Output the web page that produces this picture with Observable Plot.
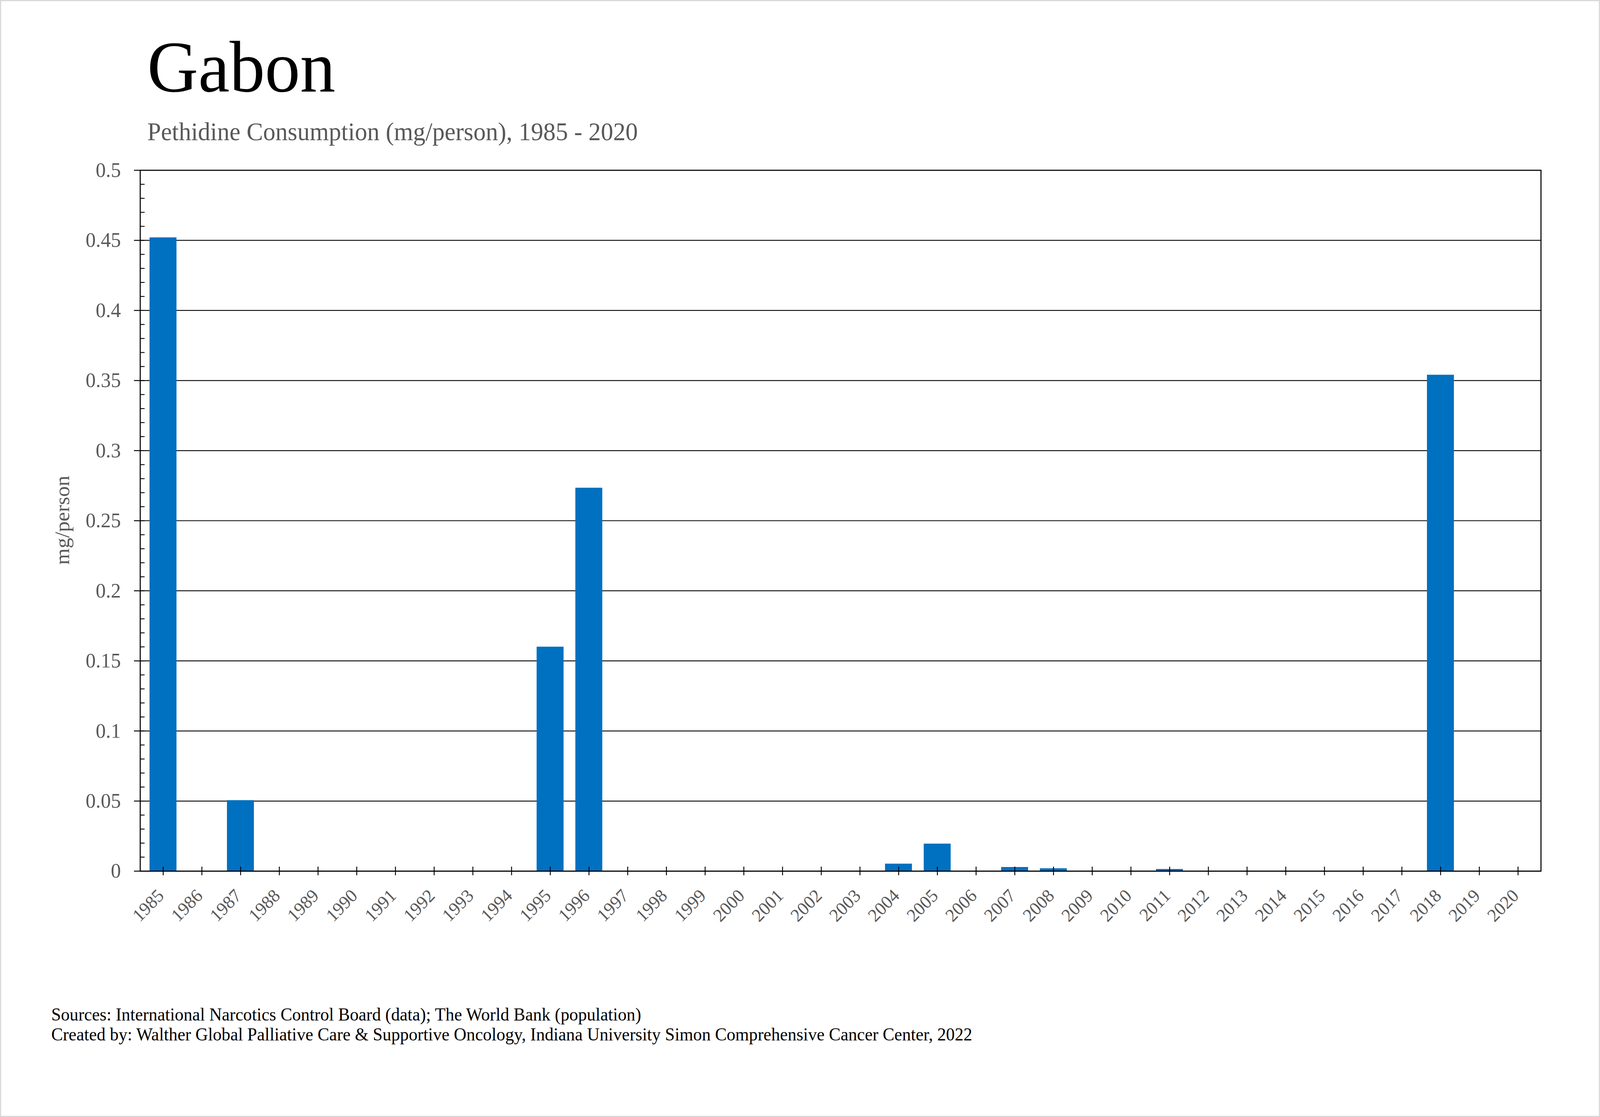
<!DOCTYPE html>
<html>
<head>
<meta charset="utf-8">
<script src="https://cdn.jsdelivr.net/npm/d3@7"></script>
<script src="https://cdn.jsdelivr.net/npm/@observablehq/plot@0.6"></script>
<style>
  html, body { margin: 0; padding: 0; background: #fff; overflow: hidden; }
  #page { position: relative; width: 4216px; height: 2860px; background: #fff; overflow: hidden;
          font-family: "Liberation Serif", "Times New Roman", serif; transform-origin: 0 0; }
  #border { position: absolute; left: 0; top: 0; width: 4216px; height: 2860px; box-sizing: border-box;
            border: 3px solid #d9d9d9; pointer-events: none; }
  #title { position: absolute; left: 388px; top: 78px; font-size: 186px; line-height: 1; color: #000; white-space: nowrap; }
  #subtitle { position: absolute; left: 388px; top: 305px; font-size: 65px; line-height: 1; color: #595959; white-space: nowrap; }
  #chart { position: absolute; left: 0; top: 380px; }
  #ylab { position: absolute; left: 0; top: 0; width: 0; height: 0; transform: translate(182px, 1332px) rotate(-90deg); transform-origin: 0 0; }
  #ylab div { position: absolute; left: -500px; width: 1000px; top: -45px; text-align: center; font-size: 54px; line-height: 1; color: #595959; white-space: nowrap; }
  #footer { position: absolute; left: 135px; top: 2572px; font-size: 46px; line-height: 51px; color: #000; white-space: nowrap; }
</style>
</head>
<body>
<div id="page">
  <div id="chart"></div>
  <div id="title">Gabon</div>
  <div id="subtitle">Pethidine Consumption (mg/person), 1985 - 2020</div>
  <div id="ylab"><div>mg/person</div></div>
  <div id="footer">Sources: International Narcotics Control Board (data); The World Bank (population)<br>Created by: Walther Global Palliative Care &amp; Supportive Oncology, Indiana University Simon Comprehensive Cancer Center, 2022</div>
  <div id="border"></div>
</div>
<script>
const years = ["1985","1986","1987","1988","1989","1990","1991","1992","1993","1994",
  "1995","1996","1997","1998","1999","2000","2001","2002","2003","2004",
  "2005","2006","2007","2008","2009","2010","2011","2012","2013","2014",
  "2015","2016","2017","2018","2019","2020"];
const values = [0.452, 0, 0.0505, 0, 0, 0, 0, 0, 0, 0,
  0.160, 0.2734, 0, 0, 0, 0, 0, 0, 0, 0.0052,
  0.0195, 0, 0.0028, 0.0019, 0, 0, 0.0014, 0, 0, 0,
  0, 0, 0, 0.354, 0, 0];
const yTicks = [0, 0.05, 0.1, 0.15, 0.2, 0.25, 0.3, 0.35, 0.4, 0.45, 0.5];
const yTickLabels = ["0", "0.05", "0.1", "0.15", "0.2", "0.25", "0.3", "0.35", "0.4", "0.45", "0.5"];
const yMinorTicks = d3.range(1, 50).map(i => i / 100);

const data = years.map((year, i) => ({year, value: values[i]}));

const W = 4216, H = 2100;
const mL = 369, mR = 156, mT = 55.5, mB = 250;
const innerW = W - mL - mR;

const chart = Plot.plot({
  width: W,
  height: H,
  marginLeft: mL,
  marginRight: mR,
  marginTop: mT,
  marginBottom: mB,
  style: {background: "transparent", fontFamily: "'Liberation Serif', 'Times New Roman', serif", overflow: "visible", maxWidth: "none"},
  x: {domain: years, paddingInner: 0.3, paddingOuter: 0.15, label: null},
  y: {domain: [0, 0.5], label: null},
  marks: [
    Plot.gridY(yTicks, {stroke: "#000", strokeOpacity: 1, strokeWidth: 2.2}),
    Plot.tickY(yMinorTicks, {y: d => d, stroke: "#000", strokeWidth: 2.2, insetRight: innerW - 12}),
    Plot.barY(data, {x: "year", y: "value", fill: "#0070C0"}),
    Plot.frame({stroke: "#000", strokeWidth: 2.8}),
    Plot.axisY({ticks: yTicks, tickSize: 16, tickPadding: 35, stroke: "#000", strokeWidth: 2.4, fill: "#595959",
      fontSize: 53, tickFormat: d => yTickLabels[yTicks.indexOf(d)] ?? String(d), label: null}),
    Plot.axisX({tickSize: 22, dy: -11, stroke: "#000", strokeWidth: 2.4, tickFormat: () => "", label: null}),
    Plot.axisX({tickSize: 0, tickPadding: 55, dx: -6, tickRotate: -45, fill: "#595959", fontSize: 47, label: null})
  ]
});
document.getElementById("chart").appendChild(chart);

// fit the 4216-wide design into the actual viewport
const page = document.getElementById("page");
const sx = Math.min(1, window.innerWidth / W);
const sy = Math.min(1, window.innerHeight / 2860);
if (sx < 1 || sy < 1) page.style.transform = `scale(${sx}, ${sy})`;
</script>
</body>
</html>
